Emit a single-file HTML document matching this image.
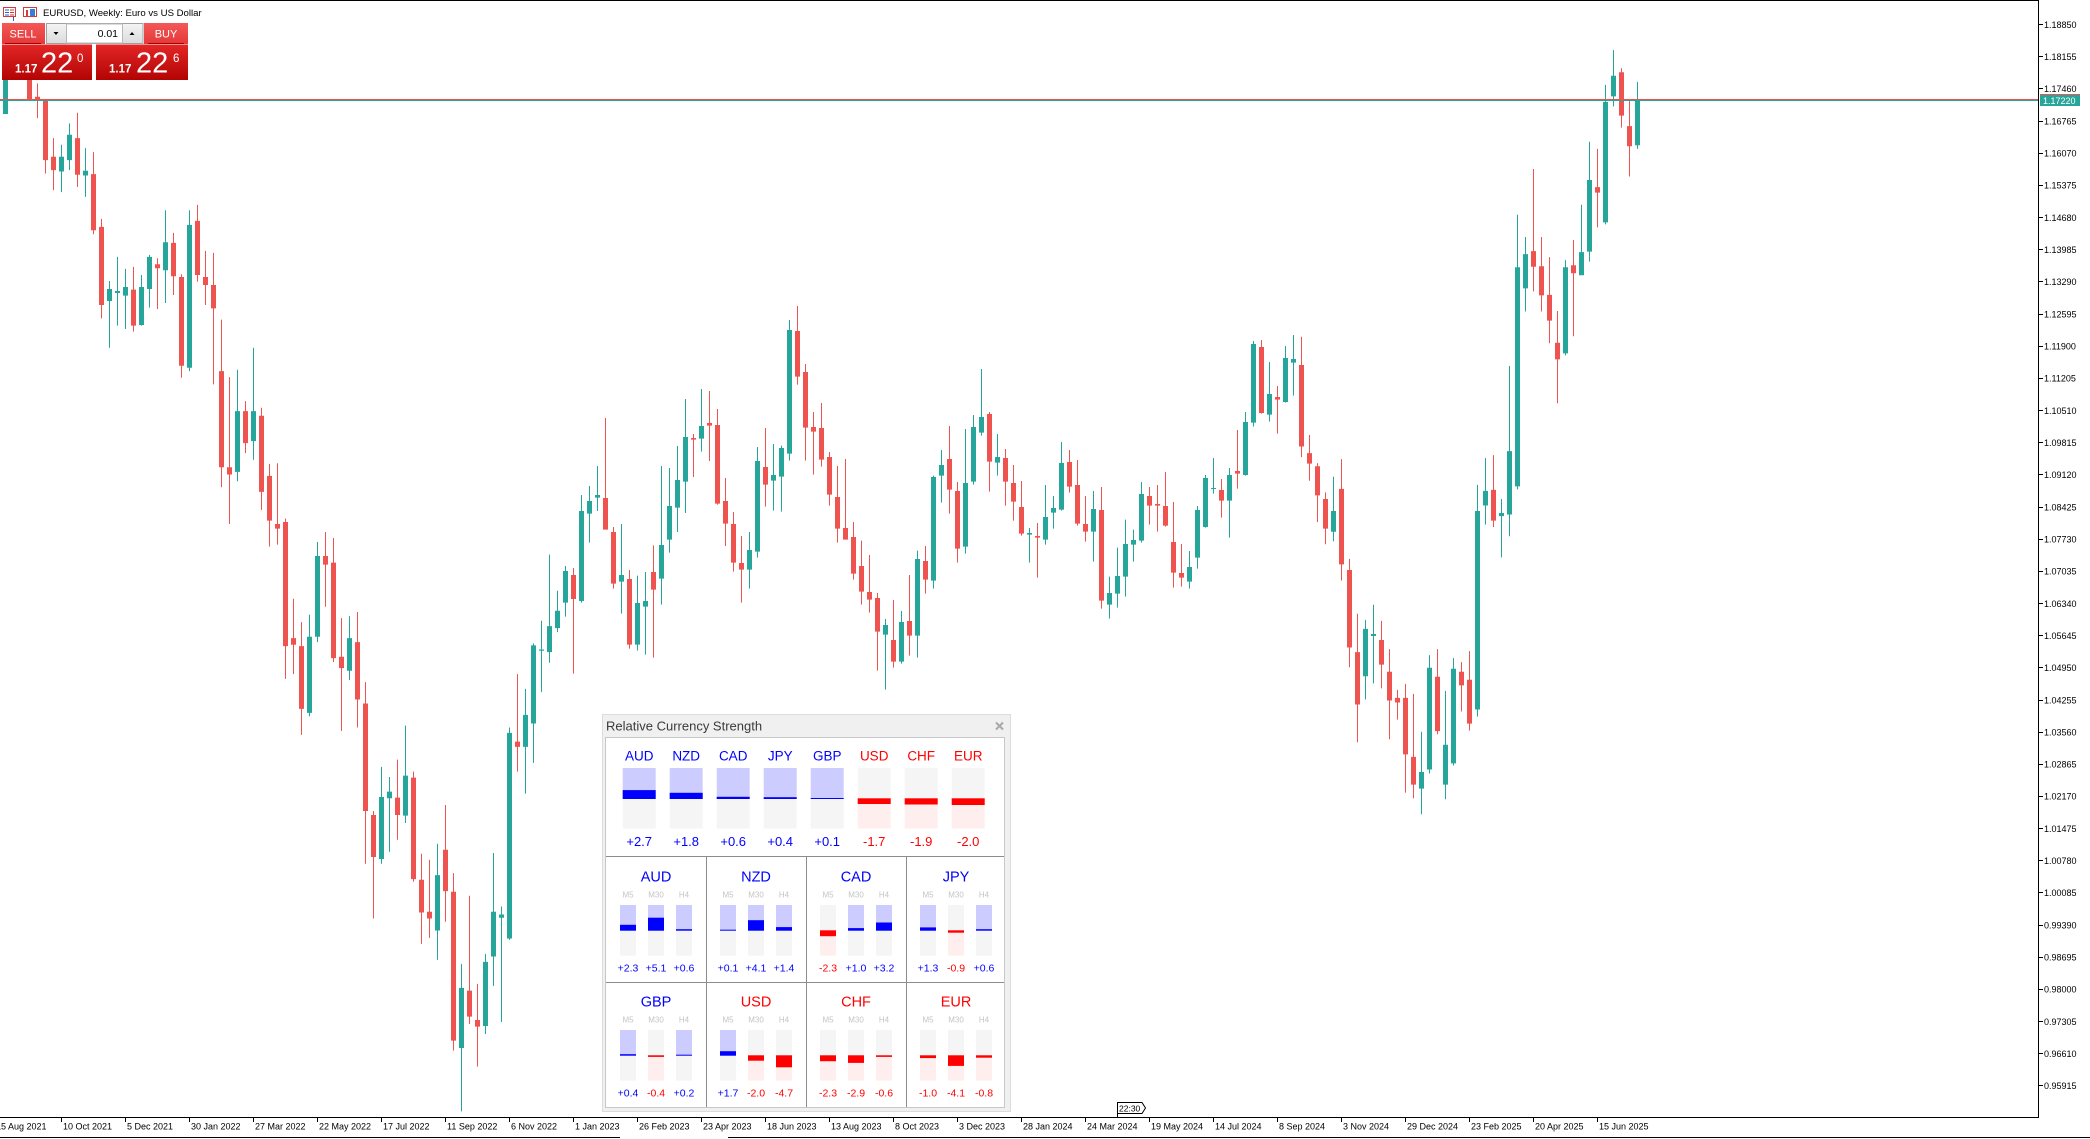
<!DOCTYPE html>
<html>
<head>
<meta charset="utf-8">
<style>
html,body{margin:0;padding:0;background:#fff;}
body{width:2090px;height:1139px;overflow:hidden;position:relative;}
svg{display:block;}
.r{fill:#ef5350}
.g{fill:#26a69a}
text{font-family:"Liberation Sans",Arial,sans-serif;}
</style>
</head>
<body>
<svg width="2090" height="1139" viewBox="0 0 2090 1139" xmlns="http://www.w3.org/2000/svg">
<defs>
<linearGradient id="gTop" x1="0" y1="0" x2="0" y2="1"><stop offset="0" stop-color="#f45858"/><stop offset="1" stop-color="#e43838"/></linearGradient>
<linearGradient id="gBot" x1="0" y1="0" x2="0" y2="1"><stop offset="0" stop-color="#e42626"/><stop offset="1" stop-color="#b20404"/></linearGradient>
<linearGradient id="gBtn" x1="0" y1="0" x2="0" y2="1"><stop offset="0" stop-color="#f4f4f4"/><stop offset="1" stop-color="#dcdcdc"/></linearGradient>
</defs>
<rect x="0" y="0" width="2090" height="1139" fill="#fff"/>

<!-- candles group 1 -->
<g transform="translate(0,70) scale(1,0.66756)">
<path class="g" d="M5,-20h1v86h-1zM3,-20h5v86h-5z"/>
<path class="r" d="M29,-30h1v74h-1zM27,-20h5v64h-5z"/>
<path class="r" d="M37,20h1v52h-1zM35,40h5v6h-5z"/>
<path class="r" d="M45,44h1v111h-1zM43,44h5v91h-5z"/>
<path class="r" d="M53,102h1v78h-1zM51,130h5v20h-5z"/>
<path class="g" d="M61,112h1v71h-1zM59,130h5v22h-5z"/>
<path class="g" d="M69,80h1v70h-1zM67,97h5v38h-5z"/>
<path class="r" d="M77,64h1v111h-1zM75,102h5v55h-5z"/>
<path class="g" d="M85,117h1v73h-1zM83,151h5v7h-5z"/>
<path class="r" d="M93,123h1v123h-1zM91,156h5v84h-5z"/>
<path class="r" d="M101,223h1v149h-1zM99,235h5v117h-5z"/>
<path class="g" d="M109,316h1v100h-1zM107,328h5v18h-5z"/>
<path class="g" d="M117,280h1v103h-1zM115,331h5v3h-5z"/>
<path class="g" d="M125,298h1v90h-1zM123,325h5v13h-5z"/>
<path class="r" d="M133,295h1v97h-1zM131,329h5v54h-5z"/>
<path class="g" d="M141,307h1v76h-1zM139,325h5v57h-5z"/>
<path class="g" d="M149,277h1v79h-1zM147,280h5v48h-5z"/>
<path class="r" d="M157,282h1v76h-1zM155,291h5v6h-5z"/>
<path class="g" d="M165,210h1v139h-1zM163,258h5v42h-5z"/>
<path class="r" d="M173,244h1v93h-1zM171,259h5v50h-5z"/>
<path class="r" d="M181,306h1v155h-1zM179,310h5v133h-5z"/>
<path class="g" d="M189,210h1v241h-1zM187,232h5v214h-5z"/>
<path class="r" d="M197,202h1v115h-1zM195,226h5v81h-5z"/>
<path class="r" d="M205,271h1v81h-1zM203,310h5v12h-5z"/>
<path class="r" d="M213,274h1v197h-1zM211,322h5v35h-5z"/>
<path class="r" d="M221,374h1v251h-1zM219,451h5v144h-5z"/>
<path class="r" d="M229,460h1v220h-1zM227,595h5v11h-5z"/>
<path class="g" d="M237,449h1v167h-1zM235,511h5v91h-5z"/>
<path class="r" d="M245,496h1v78h-1zM243,511h5v48h-5z"/>
<path class="g" d="M253,416h1v168h-1zM251,511h5v45h-5z"/>
<path class="r" d="M261,506h1v153h-1zM259,518h5v114h-5z"/>
<path class="r" d="M269,590h1v124h-1zM267,608h5v67h-5z"/>
<path class="r" d="M277,589h1v122h-1zM275,680h5v7h-5z"/>
<path class="r" d="M285,672h1v240h-1zM283,677h5v186h-5z"/>
<path class="r" d="M293,792h1v113h-1zM291,851h5v10h-5z"/>
<path class="r" d="M301,827h1v169h-1zM299,863h5v94h-5z"/>
<path class="g" d="M309,816h1v152h-1zM307,849h5v114h-5z"/>
<path class="g" d="M317,707h1v150h-1zM315,728h5v121h-5z"/>
<path class="r" d="M325,692h1v112h-1zM323,728h5v13h-5z"/>
<path class="r" d="M333,701h1v186h-1zM331,738h5v143h-5z"/>
<path class="r" d="M341,821h1v169h-1zM339,879h5v17h-5z"/>
<path class="g" d="M349,818h1v96h-1zM347,851h5v49h-5z"/>
<path class="r" d="M357,812h1v173h-1zM355,857h5v86h-5z"/>
<path class="r" d="M365,917h1v272h-1zM363,949h5v161h-5z"/>
<path class="r" d="M373,1110h1v161h-1zM371,1116h5v63h-5z"/>
<path class="g" d="M381,1044h1v145h-1zM379,1089h5v93h-5z"/>
<path class="g" d="M389,1059h1v112h-1zM387,1081h5v10h-5z"/>
<path class="r" d="M397,1033h1v120h-1zM395,1090h5v26h-5z"/>
<path class="g" d="M405,982h1v146h-1zM403,1057h5v60h-5z"/>
<path class="r" d="M413,1051h1v165h-1zM411,1060h5v152h-5z"/>
<path class="r" d="M421,1174h1v135h-1zM419,1213h5v49h-5z"/>
<path class="r" d="M429,1183h1v117h-1zM427,1261h5v10h-5z"/>
<path class="g" d="M437,1159h1v174h-1zM435,1206h5v83h-5z"/>
<path class="r" d="M445,1101h1v175h-1zM443,1168h5v62h-5z"/>
<path class="r" d="M453,1203h1v266h-1zM451,1231h5v223h-5z"/>
<path class="g" d="M461,1339h1v221h-1zM459,1375h5v90h-5z"/>
<path class="r" d="M469,1237h1v192h-1zM467,1379h5v39h-5z"/>
<path class="r" d="M477,1369h1v124h-1zM475,1423h5v10h-5z"/>
<path class="g" d="M485,1324h1v120h-1zM483,1336h5v96h-5z"/>
<path class="g" d="M493,1173h1v199h-1zM491,1261h5v67h-5z"/>
<path class="g" d="M501,1253h1v173h-1zM499,1265h5v5h-5z"/>
<path class="g" d="M509,985h1v318h-1zM507,993h5v308h-5z"/>
<path class="r" d="M517,905h1v146h-1zM515,1006h5v8h-5z"/>
<path class="g" d="M525,927h1v157h-1zM523,966h5v48h-5z"/>
<path class="g" d="M533,859h1v179h-1zM531,862h5v117h-5z"/>
<path class="g" d="M541,825h1v107h-1zM539,868h5v2h-5z"/>
<path class="g" d="M549,726h1v162h-1zM547,833h5v39h-5z"/>
<path class="g" d="M557,780h1v62h-1zM555,810h5v26h-5z"/>
</g>

<!-- candles group 2 -->
<g transform="translate(0,290) scale(1,0.333333)">
<path class="g" d="M565,828h1v152h-1zM563,843h5v95h-5z"/>
<path class="r" d="M573,834h1v317h-1zM571,855h5v72h-5z"/>
<path class="g" d="M581,615h1v323h-1zM579,663h5v270h-5z"/>
<path class="g" d="M589,588h1v170h-1zM587,633h5v38h-5z"/>
<path class="g" d="M597,528h1v135h-1zM595,615h5v8h-5z"/>
<path class="r" d="M605,384h1v335h-1zM603,624h5v95h-5z"/>
<path class="r" d="M613,711h1v185h-1zM611,726h5v155h-5z"/>
<path class="g" d="M621,702h1v269h-1zM619,855h5v20h-5z"/>
<path class="r" d="M629,840h1v236h-1zM627,867h5v197h-5z"/>
<path class="g" d="M637,857h1v225h-1zM635,939h5v125h-5z"/>
<path class="g" d="M645,846h1v248h-1zM643,933h5v17h-5z"/>
<path class="r" d="M653,766h1v337h-1zM651,846h5v53h-5z"/>
<path class="g" d="M661,528h1v416h-1zM659,765h5v101h-5z"/>
<path class="g" d="M669,534h1v254h-1zM667,648h5v101h-5z"/>
<path class="g" d="M677,468h1v258h-1zM675,570h5v83h-5z"/>
<path class="g" d="M685,327h1v342h-1zM683,441h5v134h-5z"/>
<path class="r" d="M693,432h1v129h-1zM691,444h5v5h-5z"/>
<path class="g" d="M701,297h1v188h-1zM699,408h5v38h-5z"/>
<path class="r" d="M709,303h1v210h-1zM707,399h5v8h-5z"/>
<path class="r" d="M717,357h1v287h-1zM715,405h5v236h-5z"/>
<path class="r" d="M725,564h1v204h-1zM723,633h5v68h-5z"/>
<path class="r" d="M733,666h1v179h-1zM731,702h5v116h-5z"/>
<path class="r" d="M741,738h1v200h-1zM739,819h5v20h-5z"/>
<path class="g" d="M749,726h1v170h-1zM747,780h5v59h-5z"/>
<path class="g" d="M757,471h1v332h-1zM755,513h5v272h-5z"/>
<path class="r" d="M765,414h1v236h-1zM763,531h5v53h-5z"/>
<path class="g" d="M773,462h1v200h-1zM771,555h5v17h-5z"/>
<path class="g" d="M781,467h1v198h-1zM779,474h5v86h-5z"/>
<path class="g" d="M789,90h1v422h-1zM787,120h5v371h-5z"/>
<path class="r" d="M797,48h1v236h-1zM795,123h5v137h-5z"/>
<path class="r" d="M805,222h1v290h-1zM803,246h5v167h-5z"/>
<path class="r" d="M813,366h1v188h-1zM811,411h5v14h-5z"/>
<path class="r" d="M821,339h1v191h-1zM819,414h5v95h-5z"/>
<path class="r" d="M829,486h1v161h-1zM827,501h5v113h-5z"/>
<path class="r" d="M837,528h1v230h-1zM835,621h5v95h-5z"/>
<path class="r" d="M845,507h1v242h-1zM843,714h5v35h-5z"/>
<path class="r" d="M853,696h1v173h-1zM851,741h5v110h-5z"/>
<path class="r" d="M861,752h1v192h-1zM859,828h5v77h-5z"/>
<path class="r" d="M869,795h1v173h-1zM867,906h5v23h-5z"/>
<path class="r" d="M877,909h1v233h-1zM875,924h5v101h-5z"/>
<path class="g" d="M885,987h1v212h-1zM883,1005h5v29h-5z"/>
<path class="r" d="M893,930h1v203h-1zM891,1050h5v65h-5z"/>
<path class="g" d="M901,963h1v158h-1zM899,996h5v119h-5z"/>
<path class="r" d="M909,855h1v242h-1zM907,993h5v44h-5z"/>
<path class="g" d="M917,782h1v321h-1zM915,807h5v230h-5z"/>
<path class="r" d="M925,768h1v143h-1zM923,813h5v56h-5z"/>
<path class="g" d="M933,557h1v339h-1zM931,561h5v311h-5z"/>
<path class="g" d="M941,480h1v158h-1zM939,525h5v32h-5z"/>
<path class="r" d="M949,408h1v263h-1zM947,507h5v92h-5z"/>
<path class="r" d="M957,576h1v242h-1zM955,603h5v173h-5z"/>
<path class="g" d="M965,417h1v374h-1zM963,579h5v191h-5z"/>
<path class="g" d="M973,375h1v209h-1zM971,411h5v164h-5z"/>
<path class="g" d="M981,237h1v200h-1zM979,381h5v47h-5z"/>
<path class="r" d="M989,366h1v239h-1zM987,372h5v143h-5z"/>
<path class="g" d="M997,432h1v125h-1zM995,501h5v17h-5z"/>
<path class="r" d="M1005,477h1v170h-1zM1003,504h5v71h-5z"/>
<path class="r" d="M1013,525h1v167h-1zM1011,579h5v56h-5z"/>
<path class="r" d="M1021,573h1v164h-1zM1019,651h5v80h-5z"/>
<path class="g" d="M1029,714h1v104h-1zM1027,729h5v5h-5z"/>
<path class="r" d="M1037,699h1v164h-1zM1035,738h5v5h-5z"/>
<path class="g" d="M1045,585h1v179h-1zM1043,681h5v68h-5z"/>
<path class="g" d="M1053,618h1v98h-1zM1051,654h5v14h-5z"/>
<path class="g" d="M1061,456h1v206h-1zM1059,519h5v140h-5z"/>
<path class="r" d="M1069,480h1v128h-1zM1067,516h5v74h-5z"/>
<path class="r" d="M1077,510h1v197h-1zM1075,585h5v116h-5z"/>
<path class="r" d="M1085,618h1v137h-1zM1083,702h5v23h-5z"/>
<path class="g" d="M1093,603h1v212h-1zM1091,657h5v68h-5z"/>
<path class="r" d="M1101,591h1v365h-1zM1099,660h5v272h-5z"/>
<path class="g" d="M1109,860h1v126h-1zM1107,909h5v35h-5z"/>
<path class="g" d="M1117,773h1v180h-1zM1115,858h5v53h-5z"/>
<path class="g" d="M1125,689h1v231h-1zM1123,762h5v98h-5z"/>
<path class="g" d="M1133,719h1v96h-1zM1131,750h5v14h-5z"/>
<path class="g" d="M1141,576h1v182h-1zM1139,612h5v140h-5z"/>
<path class="r" d="M1149,591h1v113h-1zM1147,618h5v29h-5z"/>
<path class="r" d="M1157,585h1v140h-1zM1155,642h5v5h-5z"/>
<path class="r" d="M1165,546h1v164h-1zM1163,648h5v59h-5z"/>
<path class="r" d="M1173,636h1v257h-1zM1171,756h5v92h-5z"/>
<path class="r" d="M1181,762h1v128h-1zM1179,849h5v14h-5z"/>
<path class="g" d="M1189,783h1v113h-1zM1187,831h5v44h-5z"/>
<path class="g" d="M1197,648h1v188h-1zM1195,660h5v143h-5z"/>
<path class="g" d="M1205,555h1v158h-1zM1203,564h5v147h-5z"/>
<path class="g" d="M1213,504h1v107h-1zM1211,594h5v3h-5z"/>
<path class="r" d="M1221,567h1v116h-1zM1219,600h5v32h-5z"/>
<path class="g" d="M1229,534h1v209h-1zM1227,555h5v77h-5z"/>
<path class="r" d="M1237,420h1v176h-1zM1235,543h5v8h-5z"/>
<path class="g" d="M1245,366h1v191h-1zM1243,396h5v159h-5z"/>
<path class="g" d="M1253,153h1v257h-1zM1251,162h5v236h-5z"/>
<path class="r" d="M1261,150h1v221h-1zM1259,171h5v198h-5z"/>
<path class="g" d="M1269,216h1v179h-1zM1267,312h5v62h-5z"/>
<path class="r" d="M1277,288h1v143h-1zM1275,321h5v8h-5z"/>
<path class="g" d="M1285,168h1v170h-1zM1283,204h5v132h-5z"/>
<path class="g" d="M1293,135h1v182h-1zM1291,207h5v11h-5z"/>
</g>

<!-- candles group 3 -->
<g transform="translate(0,40) scale(1,0.50378)">
<path class="r" d="M1301,589h1v239h-1zM1299,645h5v162h-5z"/>
<path class="r" d="M1309,784h1v91h-1zM1307,820h5v21h-5z"/>
<path class="r" d="M1317,840h1v117h-1zM1315,846h5v58h-5z"/>
<path class="r" d="M1325,898h1v103h-1zM1323,911h5v59h-5z"/>
<path class="g" d="M1333,867h1v128h-1zM1331,935h5v41h-5z"/>
<path class="r" d="M1341,832h1v241h-1zM1339,891h5v150h-5z"/>
<path class="r" d="M1349,1030h1v215h-1zM1347,1052h5v154h-5z"/>
<path class="r" d="M1357,1139h1v255h-1zM1355,1215h5v104h-5z"/>
<path class="g" d="M1365,1151h1v158h-1zM1363,1169h5v94h-5z"/>
<path class="g" d="M1373,1121h1v156h-1zM1371,1179h5v4h-5z"/>
<path class="r" d="M1381,1153h1v134h-1zM1379,1191h5v49h-5z"/>
<path class="r" d="M1389,1209h1v179h-1zM1387,1254h5v57h-5z"/>
<path class="r" d="M1397,1290h1v59h-1zM1395,1306h5v9h-5z"/>
<path class="r" d="M1405,1278h1v216h-1zM1403,1306h5v112h-5z"/>
<path class="r" d="M1413,1298h1v207h-1zM1411,1423h5v55h-5z"/>
<path class="g" d="M1421,1373h1v164h-1zM1419,1453h5v33h-5z"/>
<path class="g" d="M1429,1221h1v235h-1zM1427,1246h5v202h-5z"/>
<path class="r" d="M1437,1209h1v169h-1zM1435,1264h5v108h-5z"/>
<path class="g" d="M1445,1292h1v215h-1zM1443,1399h5v79h-5z"/>
<path class="g" d="M1453,1227h1v213h-1zM1451,1248h5v188h-5z"/>
<path class="r" d="M1461,1235h1v98h-1zM1459,1254h5v27h-5z"/>
<path class="r" d="M1469,1213h1v158h-1zM1467,1270h5v87h-5z"/>
<path class="g" d="M1477,883h1v460h-1zM1475,935h5v394h-5z"/>
<path class="g" d="M1485,830h1v132h-1zM1483,895h5v29h-5z"/>
<path class="r" d="M1493,824h1v143h-1zM1491,893h5v61h-5z"/>
<path class="g" d="M1501,911h1v116h-1zM1499,939h5v6h-5z"/>
<path class="g" d="M1509,647h1v338h-1zM1507,816h5v126h-5z"/>
<path class="g" d="M1517,347h1v545h-1zM1515,451h5v435h-5z"/>
<path class="g" d="M1525,391h1v148h-1zM1523,425h5v68h-5z"/>
<path class="r" d="M1533,256h1v243h-1zM1531,419h5v31h-5z"/>
<path class="r" d="M1541,391h1v148h-1zM1539,449h5v58h-5z"/>
<path class="r" d="M1549,431h1v171h-1zM1547,506h5v51h-5z"/>
<path class="r" d="M1557,538h1v183h-1zM1555,601h5v33h-5z"/>
<path class="g" d="M1565,437h1v189h-1zM1563,451h5v171h-5z"/>
<path class="r" d="M1573,397h1v191h-1zM1571,447h5v16h-5z"/>
<path class="g" d="M1581,327h1v140h-1zM1579,421h5v46h-5z"/>
<path class="g" d="M1589,202h1v238h-1zM1587,278h5v142h-5z"/>
<path class="r" d="M1597,216h1v156h-1zM1595,292h5v11h-5z"/>
<path class="g" d="M1605,89h1v277h-1zM1603,123h5v239h-5z"/>
<path class="g" d="M1613,20h1v112h-1zM1611,71h5v41h-5z"/>
<path class="r" d="M1621,56h1v118h-1zM1619,64h5v86h-5z"/>
<path class="r" d="M1629,119h1v152h-1zM1627,171h5v40h-5z"/>
<path class="g" d="M1637,83h1v133h-1zM1635,119h5v90h-5z"/>
</g>

<!-- current price lines -->
<rect x="0" y="99" width="2038" height="1" fill="#ef5350"/>
<rect x="0" y="100" width="2038" height="1" fill="#26a69a"/>

<!-- chart frame -->
<rect x="0" y="0" width="2038" height="1" fill="#000"/>
<rect x="2038" y="0" width="1" height="1118" fill="#000"/>
<rect x="0" y="1117" width="2039" height="1" fill="#000"/>
<rect x="0" y="1137" width="620" height="1" fill="#000"/>
<rect x="728" y="1137" width="1362" height="1" fill="#000"/>

<!-- price axis -->
<g fill="#000">
<rect x="2039" y="24" width="4" height="1"/><rect x="2039" y="56" width="4" height="1"/><rect x="2039" y="88" width="4" height="1"/><rect x="2039" y="121" width="4" height="1"/><rect x="2039" y="153" width="4" height="1"/><rect x="2039" y="185" width="4" height="1"/><rect x="2039" y="217" width="4" height="1"/><rect x="2039" y="249" width="4" height="1"/><rect x="2039" y="281" width="4" height="1"/><rect x="2039" y="314" width="4" height="1"/><rect x="2039" y="346" width="4" height="1"/><rect x="2039" y="378" width="4" height="1"/><rect x="2039" y="410" width="4" height="1"/><rect x="2039" y="442" width="4" height="1"/><rect x="2039" y="474" width="4" height="1"/><rect x="2039" y="507" width="4" height="1"/><rect x="2039" y="539" width="4" height="1"/><rect x="2039" y="571" width="4" height="1"/><rect x="2039" y="603" width="4" height="1"/><rect x="2039" y="635" width="4" height="1"/><rect x="2039" y="667" width="4" height="1"/><rect x="2039" y="700" width="4" height="1"/><rect x="2039" y="732" width="4" height="1"/><rect x="2039" y="764" width="4" height="1"/><rect x="2039" y="796" width="4" height="1"/><rect x="2039" y="828" width="4" height="1"/><rect x="2039" y="860" width="4" height="1"/><rect x="2039" y="892" width="4" height="1"/><rect x="2039" y="925" width="4" height="1"/><rect x="2039" y="957" width="4" height="1"/><rect x="2039" y="989" width="4" height="1"/><rect x="2039" y="1021" width="4" height="1"/><rect x="2039" y="1053" width="4" height="1"/><rect x="2039" y="1085" width="4" height="1"/>
</g>
<g font-size="9" fill="#000">
<text x="2044" y="27.8">1.18850</text>
<text x="2044" y="59.8">1.18155</text>
<text x="2044" y="91.8">1.17460</text>
<text x="2044" y="124.3">1.16765</text>
<text x="2044" y="156.3">1.16070</text>
<text x="2044" y="188.3">1.15375</text>
<text x="2044" y="220.8">1.14680</text>
<text x="2044" y="252.8">1.13985</text>
<text x="2044" y="284.8">1.13290</text>
<text x="2044" y="317.3">1.12595</text>
<text x="2044" y="349.3">1.11900</text>
<text x="2044" y="381.3">1.11205</text>
<text x="2044" y="413.8">1.10510</text>
<text x="2044" y="445.8">1.09815</text>
<text x="2044" y="477.8">1.09120</text>
<text x="2044" y="510.3">1.08425</text>
<text x="2044" y="542.3">1.07730</text>
<text x="2044" y="574.3">1.07035</text>
<text x="2044" y="606.8">1.06340</text>
<text x="2044" y="638.8">1.05645</text>
<text x="2044" y="670.8">1.04950</text>
<text x="2044" y="703.3">1.04255</text>
<text x="2044" y="735.3">1.03560</text>
<text x="2044" y="767.3">1.02865</text>
<text x="2044" y="799.3">1.02170</text>
<text x="2044" y="831.8">1.01475</text>
<text x="2044" y="863.8">1.00780</text>
<text x="2044" y="895.8">1.00085</text>
<text x="2044" y="928.3">0.99390</text>
<text x="2044" y="960.3">0.98695</text>
<text x="2044" y="992.3">0.98000</text>
<text x="2044" y="1024.8">0.97305</text>
<text x="2044" y="1056.8">0.96610</text>
<text x="2044" y="1088.8">0.95915</text>
</g>
<!-- current price label -->
<rect x="2040" y="94" width="40" height="1" fill="#ef5350"/>
<rect x="2040" y="95" width="40" height="11" fill="#26a69a"/>
<text x="2043" y="104" font-size="9" fill="#fff">1.17220</text>

<!-- date axis -->
<g fill="#000">
<rect x="61" y="1118" width="1" height="4"/><rect x="125" y="1118" width="1" height="4"/><rect x="189" y="1118" width="1" height="4"/><rect x="253" y="1118" width="1" height="4"/><rect x="317" y="1118" width="1" height="4"/><rect x="381" y="1118" width="1" height="4"/><rect x="445" y="1118" width="1" height="4"/><rect x="509" y="1118" width="1" height="4"/><rect x="573" y="1118" width="1" height="4"/><rect x="637" y="1118" width="1" height="4"/><rect x="701" y="1118" width="1" height="4"/><rect x="765" y="1118" width="1" height="4"/><rect x="829" y="1118" width="1" height="4"/><rect x="893" y="1118" width="1" height="4"/><rect x="957" y="1118" width="1" height="4"/><rect x="1021" y="1118" width="1" height="4"/><rect x="1085" y="1118" width="1" height="4"/><rect x="1149" y="1118" width="1" height="4"/><rect x="1213" y="1118" width="1" height="4"/><rect x="1277" y="1118" width="1" height="4"/><rect x="1341" y="1118" width="1" height="4"/><rect x="1405" y="1118" width="1" height="4"/><rect x="1469" y="1118" width="1" height="4"/><rect x="1533" y="1118" width="1" height="4"/><rect x="1597" y="1118" width="1" height="4"/>
</g>
<g font-size="9" fill="#000">
<text x="-4" y="1129.3">15 Aug 2021</text>
<text x="63" y="1129.3">10 Oct 2021</text>
<text x="127" y="1129.3">5 Dec 2021</text>
<text x="191" y="1129.3">30 Jan 2022</text>
<text x="255" y="1129.3">27 Mar 2022</text>
<text x="319" y="1129.3">22 May 2022</text>
<text x="383" y="1129.3">17 Jul 2022</text>
<text x="447" y="1129.3">11 Sep 2022</text>
<text x="511" y="1129.3">6 Nov 2022</text>
<text x="575" y="1129.3">1 Jan 2023</text>
<text x="639" y="1129.3">26 Feb 2023</text>
<text x="703" y="1129.3">23 Apr 2023</text>
<text x="767" y="1129.3">18 Jun 2023</text>
<text x="831" y="1129.3">13 Aug 2023</text>
<text x="895" y="1129.3">8 Oct 2023</text>
<text x="959" y="1129.3">3 Dec 2023</text>
<text x="1023" y="1129.3">28 Jan 2024</text>
<text x="1087" y="1129.3">24 Mar 2024</text>
<text x="1151" y="1129.3">19 May 2024</text>
<text x="1215" y="1129.3">14 Jul 2024</text>
<text x="1279" y="1129.3">8 Sep 2024</text>
<text x="1343" y="1129.3">3 Nov 2024</text>
<text x="1407" y="1129.3">29 Dec 2024</text>
<text x="1471" y="1129.3">23 Feb 2025</text>
<text x="1535" y="1129.3">20 Apr 2025</text>
<text x="1599" y="1129.3">15 Jun 2025</text>
</g>

<!-- 22:30 flag -->
<path d="M1117.5,1117 V1102.5 H1142 L1145.5,1108 L1142,1113.5 H1117.5" fill="#fff" stroke="#000" stroke-width="1"/>
<text x="1119" y="1111.5" font-size="8.5" fill="#000">22:30</text>

<!-- title bar -->
<rect x="3.5" y="7.5" width="12" height="9" fill="#fff" stroke="#d43a3a"/>
<rect x="5" y="9.5" width="4" height="1" fill="#2d62c8"/><rect x="10" y="9.5" width="4" height="1" fill="#d43a3a"/>
<rect x="5" y="12" width="4" height="1" fill="#2d62c8"/><rect x="10" y="12" width="4" height="1" fill="#d43a3a"/>
<rect x="5" y="14.5" width="4" height="1" fill="#2d62c8"/><rect x="10" y="14.5" width="4" height="1" fill="#d43a3a"/>
<rect x="13" y="17" width="1" height="4" fill="#2d62c8"/>
<rect x="23.5" y="7.5" width="13" height="9" fill="#fff" stroke="#d43a3a"/>
<rect x="26" y="10" width="2" height="6" fill="#d43a3a"/>
<rect x="30" y="9" width="5" height="7" fill="#3a7bd5"/>
<text x="43" y="16" font-size="9.6" fill="#000">EURUSD, Weekly:  Euro vs US Dollar</text>

<!-- one click trading panel -->
<rect x="2" y="23" width="43" height="21" fill="url(#gTop)"/>
<rect x="5" y="43" width="36" height="1" fill="#a80000"/>
<rect x="2" y="44.5" width="90" height="35.5" fill="url(#gBot)"/>
<rect x="144" y="23" width="44" height="21" fill="url(#gTop)"/>
<rect x="148" y="43" width="36" height="1" fill="#a80000"/>
<rect x="96" y="44.5" width="92" height="35.5" fill="url(#gBot)"/>
<rect x="46.5" y="23.5" width="96.5" height="20" fill="#f0f0f0" stroke="#a0a0a0"/>
<rect x="47" y="24" width="19" height="19" fill="url(#gBtn)"/>
<rect x="66.5" y="24" width="56" height="19" fill="#fff" stroke="#b8b8b8"/>
<rect x="123" y="24" width="19.5" height="19" fill="url(#gBtn)"/>
<polygon points="53.5,32 58.5,32 56,35" fill="#000"/>
<polygon points="129.5,35 134.5,35 132,32" fill="#000"/>
<text x="118" y="37" font-size="10.5" fill="#000" text-anchor="end">0.01</text>
<text x="23" y="37.5" font-size="11" fill="#fff" text-anchor="middle">SELL</text>
<text x="166" y="37.5" font-size="11" fill="#fff" text-anchor="middle">BUY</text>
<text x="15" y="72.3" font-size="11.5" font-weight="bold" fill="#fff">1.17</text>
<text x="41" y="72.3" font-size="29" fill="#fff">22</text>
<text x="77" y="62" font-size="11.5" fill="#fff">0</text>
<text x="109" y="72.3" font-size="11.5" font-weight="bold" fill="#fff">1.17</text>
<text x="136" y="72.3" font-size="29" fill="#fff">22</text>
<text x="173" y="62" font-size="11.5" fill="#fff">6</text>

<!-- Relative Currency Strength panel -->
<rect x="602.5" y="714.5" width="408" height="397" fill="#f0f0f0" stroke="#dcdcdc"/>
<text x="606" y="730.7" font-size="13" fill="#3a3a3a">Relative Currency Strength</text>
<path d="M996,722.5 L1003,729.5 M1003,722.5 L996,729.5" stroke="#a8a8a8" stroke-width="2"/>
<rect x="605.5" y="737.5" width="399" height="370" fill="#fff" stroke="#c8c8c8"/>

<!-- top row -->
<g font-size="13.5" text-anchor="middle">
<text x="639.2" y="760.7" fill="#0000ff">AUD</text>
<text x="686.2" y="760.7" fill="#0000ff">NZD</text>
<text x="733.2" y="760.7" fill="#0000ff">CAD</text>
<text x="780.2" y="760.7" fill="#0000ff">JPY</text>
<text x="827.2" y="760.7" fill="#0000ff">GBP</text>
<text x="874.2" y="760.7" fill="#ff0000">USD</text>
<text x="921.2" y="760.7" fill="#ff0000">CHF</text>
<text x="968.2" y="760.7" fill="#ff0000">EUR</text>
</g>
<g>
<rect x="622.7" y="768" width="33" height="30.5" fill="#ccccff"/><rect x="622.7" y="798.5" width="33" height="30" fill="#f5f5f5"/><rect x="622.7" y="790.1" width="33" height="8.9" fill="#0000ff"/>
<rect x="669.7" y="768" width="33" height="30.5" fill="#ccccff"/><rect x="669.7" y="798.5" width="33" height="30" fill="#f5f5f5"/><rect x="669.7" y="792.8" width="33" height="6.2" fill="#0000ff"/>
<rect x="716.7" y="768" width="33" height="30.5" fill="#ccccff"/><rect x="716.7" y="798.5" width="33" height="30" fill="#f5f5f5"/><rect x="716.7" y="796.8" width="33" height="2.2" fill="#0000ff"/>
<rect x="763.7" y="768" width="33" height="30.5" fill="#ccccff"/><rect x="763.7" y="798.5" width="33" height="30" fill="#f5f5f5"/><rect x="763.7" y="797.2" width="33" height="1.8" fill="#0000ff"/>
<rect x="810.7" y="768" width="33" height="30.5" fill="#ccccff"/><rect x="810.7" y="798.5" width="33" height="30" fill="#f5f5f5"/><rect x="810.7" y="798" width="33" height="1" fill="#0000ff"/>
<rect x="857.7" y="768" width="33" height="30.5" fill="#f5f5f5"/><rect x="857.7" y="798.5" width="33" height="30" fill="#ffeeee"/><rect x="857.7" y="798.3" width="33" height="5.7" fill="#ff0000"/>
<rect x="904.7" y="768" width="33" height="30.5" fill="#f5f5f5"/><rect x="904.7" y="798.5" width="33" height="30" fill="#ffeeee"/><rect x="904.7" y="798.3" width="33" height="6.2" fill="#ff0000"/>
<rect x="951.7" y="768" width="33" height="30.5" fill="#f5f5f5"/><rect x="951.7" y="798.5" width="33" height="30" fill="#ffeeee"/><rect x="951.7" y="798.3" width="33" height="6.7" fill="#ff0000"/>
</g>
<g font-size="13" text-anchor="middle">
<text x="639.2" y="846" fill="#0000ff">+2.7</text>
<text x="686.2" y="846" fill="#0000ff">+1.8</text>
<text x="733.2" y="846" fill="#0000ff">+0.6</text>
<text x="780.2" y="846" fill="#0000ff">+0.4</text>
<text x="827.2" y="846" fill="#0000ff">+0.1</text>
<text x="874.2" y="846" fill="#ff0000">-1.7</text>
<text x="921.2" y="846" fill="#ff0000">-1.9</text>
<text x="968.2" y="846" fill="#ff0000">-2.0</text>
</g>

<!-- grid -->
<g fill="#8c8c8c">
<rect x="606" y="856" width="398" height="1"/>
<rect x="606" y="982" width="398" height="1"/>
<rect x="706" y="856" width="1" height="251"/>
<rect x="806" y="856" width="1" height="251"/>
<rect x="906" y="856" width="1" height="251"/>
</g>

<!-- sub cell names -->
<g font-size="14.5" text-anchor="middle">
<text x="656" y="881.7" fill="#0000ff">AUD</text>
<text x="756" y="881.7" fill="#0000ff">NZD</text>
<text x="856" y="881.7" fill="#0000ff">CAD</text>
<text x="956" y="881.7" fill="#0000ff">JPY</text>
<text x="656" y="1006.7" fill="#0000ff">GBP</text>
<text x="756" y="1006.7" fill="#ff0000">USD</text>
<text x="856" y="1006.7" fill="#ff0000">CHF</text>
<text x="956" y="1006.7" fill="#ff0000">EUR</text>
</g>
<g font-size="8" fill="#c4c4c4" text-anchor="middle">
<text x="628" y="897.7">M5</text><text x="656" y="897.7">M30</text><text x="684" y="897.7">H4</text>
<text x="728" y="897.7">M5</text><text x="756" y="897.7">M30</text><text x="784" y="897.7">H4</text>
<text x="828" y="897.7">M5</text><text x="856" y="897.7">M30</text><text x="884" y="897.7">H4</text>
<text x="928" y="897.7">M5</text><text x="956" y="897.7">M30</text><text x="984" y="897.7">H4</text>
<text x="628" y="1022.7">M5</text><text x="656" y="1022.7">M30</text><text x="684" y="1022.7">H4</text>
<text x="728" y="1022.7">M5</text><text x="756" y="1022.7">M30</text><text x="784" y="1022.7">H4</text>
<text x="828" y="1022.7">M5</text><text x="856" y="1022.7">M30</text><text x="884" y="1022.7">H4</text>
<text x="928" y="1022.7">M5</text><text x="956" y="1022.7">M30</text><text x="984" y="1022.7">H4</text>
</g>

<!-- sub bars row 1 -->
<g>
<rect x="620" y="905" width="16" height="25.7" fill="#ccccff"/><rect x="620" y="930.7" width="16" height="25" fill="#f5f5f5"/><rect x="620" y="924.8" width="16" height="5.9" fill="#0000ff"/>
<rect x="648" y="905" width="16" height="25.7" fill="#ccccff"/><rect x="648" y="930.7" width="16" height="25" fill="#f5f5f5"/><rect x="648" y="917.7" width="16" height="13" fill="#0000ff"/>
<rect x="676" y="905" width="16" height="25.7" fill="#ccccff"/><rect x="676" y="930.7" width="16" height="25" fill="#f5f5f5"/><rect x="676" y="929.2" width="16" height="1.5" fill="#0000ff"/>

<rect x="720" y="905" width="16" height="25.7" fill="#ccccff"/><rect x="720" y="930.7" width="16" height="25" fill="#f5f5f5"/><rect x="720" y="929.7" width="16" height="1" fill="#0000ff"/>
<rect x="748" y="905" width="16" height="25.7" fill="#ccccff"/><rect x="748" y="930.7" width="16" height="25" fill="#f5f5f5"/><rect x="748" y="920.2" width="16" height="10.5" fill="#0000ff"/>
<rect x="776" y="905" width="16" height="25.7" fill="#ccccff"/><rect x="776" y="930.7" width="16" height="25" fill="#f5f5f5"/><rect x="776" y="927.1" width="16" height="3.6" fill="#0000ff"/>

<rect x="820" y="905" width="16" height="25.7" fill="#f5f5f5"/><rect x="820" y="930.7" width="16" height="25" fill="#ffeeee"/><rect x="820" y="930.3" width="16" height="5.9" fill="#ff0000"/>
<rect x="848" y="905" width="16" height="25.7" fill="#ccccff"/><rect x="848" y="930.7" width="16" height="25" fill="#f5f5f5"/><rect x="848" y="928.1" width="16" height="2.6" fill="#0000ff"/>
<rect x="876" y="905" width="16" height="25.7" fill="#ccccff"/><rect x="876" y="930.7" width="16" height="25" fill="#f5f5f5"/><rect x="876" y="922.5" width="16" height="8.2" fill="#0000ff"/>

<rect x="920" y="905" width="16" height="25.7" fill="#ccccff"/><rect x="920" y="930.7" width="16" height="25" fill="#f5f5f5"/><rect x="920" y="927.4" width="16" height="3.3" fill="#0000ff"/>
<rect x="948" y="905" width="16" height="25.7" fill="#f5f5f5"/><rect x="948" y="930.7" width="16" height="25" fill="#ffeeee"/><rect x="948" y="930.3" width="16" height="2.4" fill="#ff0000"/>
<rect x="976" y="905" width="16" height="25.7" fill="#ccccff"/><rect x="976" y="930.7" width="16" height="25" fill="#f5f5f5"/><rect x="976" y="929.2" width="16" height="1.5" fill="#0000ff"/>
</g>
<!-- sub bars row 2 -->
<g>
<rect x="620" y="1030" width="16" height="25.7" fill="#ccccff"/><rect x="620" y="1055.7" width="16" height="25" fill="#f5f5f5"/><rect x="620" y="1054.2" width="16" height="1.5" fill="#0000ff"/>
<rect x="648" y="1030" width="16" height="25.7" fill="#f5f5f5"/><rect x="648" y="1055.7" width="16" height="25" fill="#ffeeee"/><rect x="648" y="1055.3" width="16" height="1.6" fill="#ff0000"/>
<rect x="676" y="1030" width="16" height="25.7" fill="#ccccff"/><rect x="676" y="1055.7" width="16" height="25" fill="#f5f5f5"/><rect x="676" y="1054.7" width="16" height="1" fill="#0000ff"/>

<rect x="720" y="1030" width="16" height="25.7" fill="#ccccff"/><rect x="720" y="1055.7" width="16" height="25" fill="#f5f5f5"/><rect x="720" y="1051.2" width="16" height="4.5" fill="#0000ff"/>
<rect x="748" y="1030" width="16" height="25.7" fill="#f5f5f5"/><rect x="748" y="1055.7" width="16" height="25" fill="#ffeeee"/><rect x="748" y="1055.3" width="16" height="5.4" fill="#ff0000"/>
<rect x="776" y="1030" width="16" height="25.7" fill="#f5f5f5"/><rect x="776" y="1055.7" width="16" height="25" fill="#ffeeee"/><rect x="776" y="1055.3" width="16" height="12" fill="#ff0000"/>

<rect x="820" y="1030" width="16" height="25.7" fill="#f5f5f5"/><rect x="820" y="1055.7" width="16" height="25" fill="#ffeeee"/><rect x="820" y="1055.3" width="16" height="5.9" fill="#ff0000"/>
<rect x="848" y="1030" width="16" height="25.7" fill="#f5f5f5"/><rect x="848" y="1055.7" width="16" height="25" fill="#ffeeee"/><rect x="848" y="1055.3" width="16" height="7.6" fill="#ff0000"/>
<rect x="876" y="1030" width="16" height="25.7" fill="#f5f5f5"/><rect x="876" y="1055.7" width="16" height="25" fill="#ffeeee"/><rect x="876" y="1055.3" width="16" height="1.6" fill="#ff0000"/>

<rect x="920" y="1030" width="16" height="25.7" fill="#f5f5f5"/><rect x="920" y="1055.7" width="16" height="25" fill="#ffeeee"/><rect x="920" y="1055.3" width="16" height="2.8" fill="#ff0000"/>
<rect x="948" y="1030" width="16" height="25.7" fill="#f5f5f5"/><rect x="948" y="1055.7" width="16" height="25" fill="#ffeeee"/><rect x="948" y="1055.3" width="16" height="10.6" fill="#ff0000"/>
<rect x="976" y="1030" width="16" height="25.7" fill="#f5f5f5"/><rect x="976" y="1055.7" width="16" height="25" fill="#ffeeee"/><rect x="976" y="1055.3" width="16" height="2.4" fill="#ff0000"/>
</g>

<!-- sub values -->
<g font-size="10.5" text-anchor="middle">
<text x="628" y="971.7" fill="#0000ff">+2.3</text><text x="656" y="971.7" fill="#0000ff">+5.1</text><text x="684" y="971.7" fill="#0000ff">+0.6</text>
<text x="728" y="971.7" fill="#0000ff">+0.1</text><text x="756" y="971.7" fill="#0000ff">+4.1</text><text x="784" y="971.7" fill="#0000ff">+1.4</text>
<text x="828" y="971.7" fill="#ff0000">-2.3</text><text x="856" y="971.7" fill="#0000ff">+1.0</text><text x="884" y="971.7" fill="#0000ff">+3.2</text>
<text x="928" y="971.7" fill="#0000ff">+1.3</text><text x="956" y="971.7" fill="#ff0000">-0.9</text><text x="984" y="971.7" fill="#0000ff">+0.6</text>
<text x="628" y="1096.7" fill="#0000ff">+0.4</text><text x="656" y="1096.7" fill="#ff0000">-0.4</text><text x="684" y="1096.7" fill="#0000ff">+0.2</text>
<text x="728" y="1096.7" fill="#0000ff">+1.7</text><text x="756" y="1096.7" fill="#ff0000">-2.0</text><text x="784" y="1096.7" fill="#ff0000">-4.7</text>
<text x="828" y="1096.7" fill="#ff0000">-2.3</text><text x="856" y="1096.7" fill="#ff0000">-2.9</text><text x="884" y="1096.7" fill="#ff0000">-0.6</text>
<text x="928" y="1096.7" fill="#ff0000">-1.0</text><text x="956" y="1096.7" fill="#ff0000">-4.1</text><text x="984" y="1096.7" fill="#ff0000">-0.8</text>
</g>
</svg>
</body>
</html>
